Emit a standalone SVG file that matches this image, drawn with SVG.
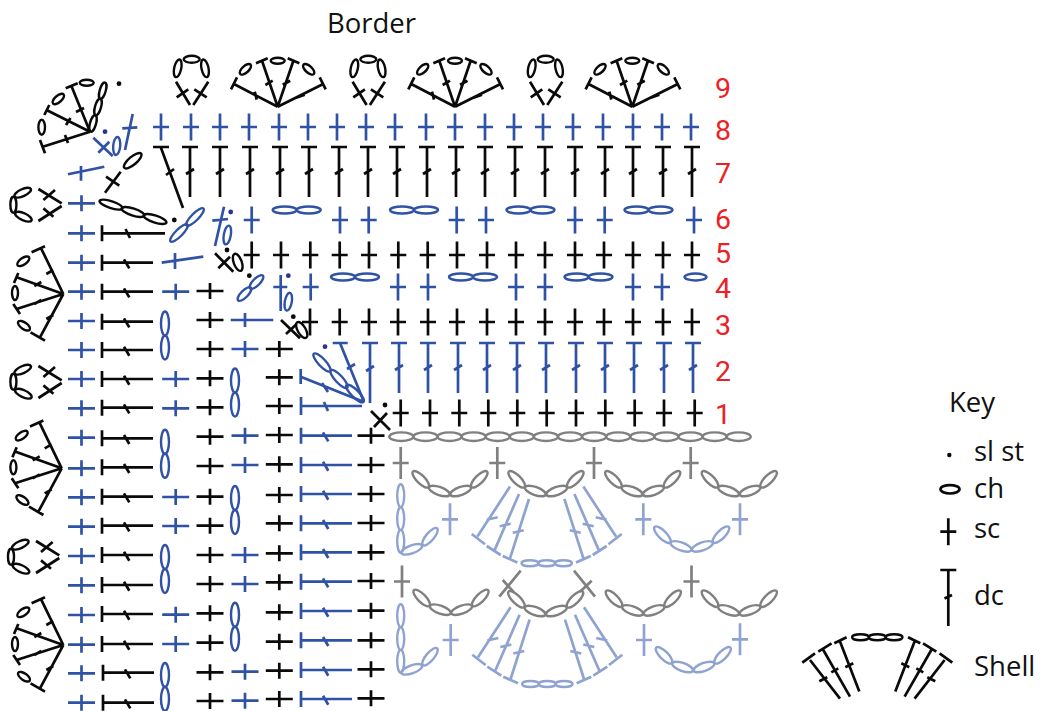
<svg xmlns="http://www.w3.org/2000/svg" xmlns:xlink="http://www.w3.org/1999/xlink" width="1040" height="711" viewBox="0 0 1040 711">
<style>
g{fill:none;stroke-width:2.7}
ellipse{stroke-width:2.4}
.k{stroke:#0a0a0a}
.b{stroke:#2f52a5}
.g{stroke:#808080}
.l{stroke:#8fa3d1}
text{font-family:"Open Sans","Noto Sans",sans-serif;stroke:none}
.lab{font-size:27.5px;fill:#111}
.num{font-size:28.5px;fill:#ed2024;font-family:Roboto,"Open Sans",sans-serif}
.dk{fill:#0a0a0a;stroke:none}
.db{fill:#2e3192;stroke:none}
</style>
<defs>
<path id="scv" d="M0-13.5V13.5M-8 0H8"/>
<path id="sch" d="M-13.5 0H13.5M0-8V8"/>
<path id="sct" d="M0-16V16M-8 0H8"/>
<path id="dcv" d="M-8 0H8M0 0V50M-4 27L4 22"/>
<path id="dch" d="M0-8V8M0 0H51M22-3.3L27.3 5.7"/>
<g id="ch2h"><ellipse cx="-12" rx="12" ry="3.5"/><ellipse cx="12" rx="12" ry="3.5"/></g>
<g id="ch2v"><ellipse cy="-12" rx="4" ry="12"/><ellipse cy="12" rx="4" ry="12"/></g>
<g id="fan9">
<path d="M0 0L-43.3-22.4M-46.7-17.4L-40.7-29.4M-23-15L-21-7M0 0L-15.7-46M-21.7-43.4L-10-48.4M-12.3-21.7L-5-26M0 0L15.7-46M10-48.4L21.7-43.4M5-22L12.5-26M0 0L45-22.4M42-29.4L48-17.4M17-8.5L27-12"/>
<ellipse rx="7" ry="3.3" transform="translate(-32.3 -37.4) rotate(-42)"/><ellipse cy="-46" rx="7" ry="3"/><ellipse rx="7" ry="3.3" transform="translate(31 -37.4) rotate(42)"/>
</g>
<g id="loop9">
<path d="M-15.7-25L-1.7-1.7M-15-9.4L-3.4-17.4M16.6-25L1.6-1.7M15-9.4L2.6-17.4"/>
<ellipse rx="9" ry="3.5" transform="translate(-14 -38.4) rotate(-78)"/><ellipse cy="-47.4" rx="8" ry="3.5"/><ellipse rx="9" ry="3.5" transform="translate(13.3 -38.4) rotate(78)"/>
</g>
<g id="loopL">
<path d="M-23.3-15.7L0-1.3M-18.3-4.7L-6.7-14.7M-23.3 16.3L0 1.3M-18.3 3.7L-8.3 12"/>
<ellipse rx="9" ry="3.5" transform="translate(-39 -12) rotate(-25)"/><ellipse cx="-48.3" rx="3" ry="8"/><ellipse rx="9" ry="3.5" transform="translate(-38.3 12) rotate(25)"/>
</g>
<g id="fanL">
<path d="M0 0L-22.7-46.7M-31.7-41.7L-18.3-47.7M-17-20L-10-24M0 0L-46.7-16.7M-49.3-11L-45-21M-29-8L-22-12M0 0L-46.7 15M-50 10L-43.3 20M-29 10L-22 6M0 0L-23.3 43.3M-32.7 38.3L-18.3 46.7M-17 25L-10 21"/>
<ellipse rx="7" ry="3.3" transform="translate(-40 -32.7) rotate(-35)"/><ellipse cx="-48.3" cy="-1" rx="3" ry="7"/><ellipse rx="7" ry="3.3" transform="translate(-39.3 31.7) rotate(35)"/>
</g>
<g id="smile">
<ellipse rx="11" ry="4" transform="translate(-29.3 -18) rotate(45)"/><ellipse rx="11" ry="4" transform="translate(-10.7 -6.3) rotate(20)"/><ellipse rx="11" ry="4" transform="translate(10.7 -6.3) rotate(-20)"/><ellipse rx="11" ry="4" transform="translate(29.3 -18) rotate(-45)"/>
</g>
<g id="corner">
<ellipse cy="-11.4" rx="3.5" ry="11.4"/><ellipse cy="-34" rx="3.5" ry="11.4"/><ellipse cy="-57" rx="3.5" ry="11.4"/>
<ellipse rx="11" ry="4" transform="translate(11 -3.4) rotate(-20)"/><ellipse rx="11" ry="4" transform="translate(29.3 -16) rotate(-50)"/>
</g>
<path id="half" d="M-36.7-76.7L-69.3-26.7M-75-29.3L-61.7-19M-60-43.5L-49-46M-27.7-69.3L-52.3-12.7M-60-17.3L-46-8.3M-47-37L-36-39.5M-17.7-64.3L-36.7-5M-44-7.3L-29.3-.7M-34-30.5L-23-33"/>
<g id="shellL">
<use href="#half"/><use href="#half" transform="scale(-1 1)"/>
<ellipse cx="-16.8" rx="8.4" ry="3"/><ellipse rx="8.4" ry="3"/><ellipse cx="16.8" rx="8.4" ry="3"/>
</g>
<path id="halfK" d="M-67.3 22.7L-37.3 61.3M-75 25.3L-62.3 16M-58 44L-50 40M-54 12.7L-27.3 59.3M-59 14.3L-45.7 6M-46 35L-39 31M-37.3 4.3L-18 54.3M-43 6L-30.7 0M-32 30L-24 26"/>
</defs>

<text x="327" y="33" class="lab">Border</text>
<g id="row-numbers">
<text x="715" y="98" class="num">9</text><text x="715" y="140" class="num">8</text><text x="715" y="183" class="num">7</text><text x="715" y="229" class="num">6</text><text x="715" y="263" class="num">5</text><text x="715" y="298" class="num">4</text><text x="715" y="335" class="num">3</text><text x="715" y="381" class="num">2</text><text x="715" y="424" class="num">1</text>
</g>

<g id="row9" class="k">
<use href="#fan9" x="277.7" y="106.7"/><use href="#fan9" x="455" y="106.7"/><use href="#fan9" x="632.3" y="106.7"/>
<use href="#loop9" x="191.7" y="106.7"/><use href="#loop9" x="368.3" y="106.7"/><use href="#loop9" x="545.7" y="106.7"/>
</g>

<g id="corner-shell" class="k">
<path d="M90 131.7L42 147M40 140L45 153.3M65 135L68 143M90 131.7L46.5 110M44.3 115L49.3 105M66 125L70.5 118M90 131.7L71.7 86.7M65.7 88.3L77.7 83.3M76 112L84 108"/>
<ellipse rx="7.5" ry="3.3" transform="translate(41.7 127.3) rotate(90)"/><ellipse rx="7" ry="3.3" transform="translate(58.3 99) rotate(-40)"/><ellipse cx="86.7" cy="82.7" rx="7" ry="3"/>
<ellipse rx="8.5" ry="3" transform="translate(93 123.5) rotate(-74)"/><ellipse rx="8.5" ry="3" transform="translate(98 107) rotate(-74)"/><ellipse rx="8.5" ry="3" transform="translate(102.7 90.7) rotate(-74)"/>
<circle cx="119" cy="83.7" r="2.4" class="dk"/>
</g>

<g id="row8" class="b">
<use href="#scv" x="161" y="127"/><use href="#scv" x="191" y="127"/><use href="#scv" x="220" y="127"/><use href="#scv" x="249" y="127"/><use href="#scv" x="279" y="127"/><use href="#scv" x="308" y="127"/><use href="#scv" x="337" y="127"/><use href="#scv" x="366" y="127"/><use href="#scv" x="395" y="127"/><use href="#scv" x="426" y="127"/><use href="#scv" x="455" y="127"/><use href="#scv" x="485" y="127"/><use href="#scv" x="514" y="127"/><use href="#scv" x="543" y="127"/><use href="#scv" x="573" y="127"/><use href="#scv" x="603" y="127"/><use href="#scv" x="633" y="127"/><use href="#scv" x="662" y="127"/><use href="#scv" x="691" y="127"/>
<path d="M125 150L132.7 114M122.3 128.3L137.3 127.3M93.3 137.7L112.7 156M98.3 152.7L109.3 141.7"/>
<ellipse rx="9" ry="3.5" transform="translate(116.7 146) rotate(-85)"/>
<circle cx="105" cy="131.7" r="2.4" class="db"/>
</g>

<g id="row7" class="k">
<path d="M160.7 147L183 208M153 147H169M166 175L174 169"/>
<use href="#dcv" x="190" y="147"/><use href="#dcv" x="220" y="147"/><use href="#dcv" x="250" y="147"/><use href="#dcv" x="280" y="147"/><use href="#dcv" x="309" y="147"/><use href="#dcv" x="339" y="147"/><use href="#dcv" x="368" y="147"/><use href="#dcv" x="397" y="147"/><use href="#dcv" x="427" y="147"/><use href="#dcv" x="456" y="147"/><use href="#dcv" x="485" y="147"/><use href="#dcv" x="515" y="147"/><use href="#dcv" x="545" y="147"/><use href="#dcv" x="575" y="147"/><use href="#dcv" x="605" y="147"/><use href="#dcv" x="633" y="147"/><use href="#dcv" x="663" y="147"/><use href="#dcv" x="692" y="147"/>
<path d="M105 192.7L120.7 171.7M106 176.7L119.3 185.7"/>
<ellipse rx="11" ry="4" transform="translate(132.7 160.7) rotate(-40)"/>
<ellipse rx="12" ry="3.5" transform="translate(111 204.6) rotate(18)"/><ellipse rx="12" ry="3.5" transform="translate(133 212) rotate(18)"/><ellipse rx="12" ry="3.5" transform="translate(155 219) rotate(18)"/>
<circle cx="174.3" cy="220" r="2.4" class="dk"/>
</g>

<g id="row6" class="b">
<use href="#scv" x="251.7" y="220"/><use href="#scv" x="340" y="220"/><use href="#scv" x="368.7" y="220"/><use href="#scv" x="456.7" y="220"/><use href="#scv" x="486" y="220"/><use href="#scv" x="575" y="220"/><use href="#scv" x="604.7" y="220"/><use href="#scv" x="694" y="220"/>
<use href="#ch2h" x="296.7" y="210"/><use href="#ch2h" x="414" y="210"/><use href="#ch2h" x="530.5" y="210"/><use href="#ch2h" x="648.5" y="210"/>
<ellipse rx="12" ry="3.5" transform="translate(179 233) rotate(-45)"/><ellipse rx="12" ry="3.5" transform="translate(195 217) rotate(-45)"/>
<path d="M215 246L224 206.7M212.3 220.7L228 219"/>
<ellipse rx="9.5" ry="3.5" transform="translate(227.3 235) rotate(-80)"/>
<circle cx="230.7" cy="212" r="2.4" class="db"/>
<path d="M161.7 262.7L203.3 256.7M175 253V269"/>
</g>

<g id="row5" class="k">
<use href="#scv" x="251.7" y="255"/><use href="#scv" x="281" y="255"/><use href="#scv" x="310.3" y="255"/><use href="#scv" x="339.7" y="255"/><use href="#scv" x="369" y="255"/><use href="#scv" x="398.3" y="255"/><use href="#scv" x="427.7" y="255"/><use href="#scv" x="457" y="255"/><use href="#scv" x="487" y="255"/><use href="#scv" x="516" y="255"/><use href="#scv" x="545" y="255"/><use href="#scv" x="575" y="255"/><use href="#scv" x="604" y="255"/><use href="#scv" x="633" y="255"/><use href="#scv" x="663" y="255"/><use href="#scv" x="692" y="255"/>
<path d="M215 253.3L233.3 271.7M218.3 268.3L230 256.7"/>
<ellipse rx="9" ry="4" transform="translate(237.7 262.3) rotate(70)"/>
<circle cx="227" cy="250" r="2.4" class="dk"/>
</g>

<g id="row4" class="b">
<ellipse rx="9" ry="3.5" transform="translate(244.5 294) rotate(-45)"/><ellipse rx="9" ry="3.5" transform="translate(256.5 282) rotate(-45)"/>
<path d="M280.7 275V311M273.3 287H287.3"/>
<ellipse rx="9" ry="3.5" transform="translate(288.3 301.7) rotate(-80)"/>
<circle cx="288.3" cy="275.7" r="2.4" class="db"/>
<circle cx="249.3" cy="275.7" r="2.4" class="dk"/>
<use href="#scv" x="310.7" y="287"/><use href="#scv" x="398" y="287"/><use href="#scv" x="428" y="287"/><use href="#scv" x="516" y="287"/><use href="#scv" x="545" y="287"/><use href="#scv" x="633" y="287"/><use href="#scv" x="662" y="287"/>
<use href="#ch2h" x="355" y="277"/><use href="#ch2h" x="473" y="277"/><use href="#ch2h" x="588.5" y="277"/>
<ellipse cx="695.5" cy="277" rx="11" ry="3.5"/>
</g>

<g id="row3" class="k">
<use href="#scv" x="310" y="322"/><use href="#scv" x="339.7" y="322"/><use href="#scv" x="369" y="322"/><use href="#scv" x="398" y="322"/><use href="#scv" x="428" y="322"/><use href="#scv" x="457" y="322"/><use href="#scv" x="487" y="322"/><use href="#scv" x="516" y="322"/><use href="#scv" x="545" y="322"/><use href="#scv" x="575" y="322"/><use href="#scv" x="604" y="322"/><use href="#scv" x="633" y="322"/><use href="#scv" x="663" y="322"/><use href="#scv" x="692" y="322"/>
<path d="M281 320L300 338.3M286 334L296.7 324"/>
<ellipse rx="9" ry="4" transform="translate(301.7 330) rotate(60)"/>
<circle cx="293.3" cy="316.7" r="2.4" class="dk"/>
</g>

<g id="row2" class="b">
<use href="#dcv" x="399" y="343"/><use href="#dcv" x="428" y="343"/><use href="#dcv" x="458" y="343"/><use href="#dcv" x="487" y="343"/><use href="#dcv" x="517" y="343"/><use href="#dcv" x="546" y="343"/><use href="#dcv" x="576" y="343"/><use href="#dcv" x="605" y="343"/><use href="#dcv" x="634" y="343"/><use href="#dcv" x="664" y="343"/><use href="#dcv" x="693" y="343"/>
<path d="M362 343H378M370 343V403M366 371L374 366M332.7 343H347.7M340 343L364 402M347 369L355 364M300.7 369V384M300.7 376.7L364 402M322 383L328 392M301 397V415M301 406H362M324 402L328 411"/>
<ellipse rx="12" ry="3.7" transform="translate(322 362.5) rotate(47)"/><ellipse rx="12" ry="3.7" transform="translate(339 379) rotate(47)"/><ellipse rx="12" ry="3.7" transform="translate(355 393.5) rotate(45)"/>
<circle cx="325" cy="346.7" r="2.4" class="db"/>
</g>

<g id="row1" class="k">
<use href="#scv" x="400.7" y="413"/><use href="#scv" x="430" y="413"/><use href="#scv" x="459.3" y="413"/><use href="#scv" x="488.3" y="413"/><use href="#scv" x="517.3" y="413"/><use href="#scv" x="546.7" y="413"/><use href="#scv" x="576" y="413"/><use href="#scv" x="605.3" y="413"/><use href="#scv" x="634.7" y="413"/><use href="#scv" x="664" y="413"/><use href="#scv" x="694.7" y="413"/>
<path d="M371 411L390 430M374 427L387 413"/>
<circle cx="385" cy="405" r="2.4" class="dk"/>
</g>

<g id="left-column-a" class="k">
<use href="#loopL" x="61.7" y="204.7"/><use href="#loopL" x="61.7" y="381.7"/><use href="#loopL" x="59.3" y="556.7"/>
<use href="#fanL" x="63.3" y="294"/><use href="#fanL" x="61.7" y="468.3"/><use href="#fanL" x="63.3" y="645"/>
</g>

<g id="col-sc-blue-1" class="b">
<use href="#sch" x="81.5" y="203.3"/><use href="#sch" x="81.5" y="233.3"/><use href="#sch" x="81.5" y="262.7"/><use href="#sch" x="81.5" y="291.7"/><use href="#sch" x="81.5" y="321"/><use href="#sch" x="81.5" y="350"/><use href="#sch" x="81.5" y="379"/><use href="#sch" x="81.5" y="408.3"/><use href="#sch" x="81.5" y="437.7"/><use href="#sch" x="81.5" y="468.3"/><use href="#sch" x="81.5" y="497.3"/><use href="#sch" x="81.5" y="526.7"/><use href="#sch" x="81.5" y="556"/><use href="#sch" x="81.5" y="585.3"/><use href="#sch" x="81.5" y="615"/><use href="#sch" x="81.5" y="644.7"/><use href="#sch" x="81.5" y="673.3"/><use href="#sch" x="81.5" y="702.7"/>
<path d="M68 174.3L104.3 166.7M81 166V180.7"/>
</g>

<g id="col-dc-black" class="k">
<path d="M102 225.3V241.3M102 233.3H165M125.5 229L130 238"/>
<use href="#dch" x="102" y="262.7"/><use href="#dch" x="102" y="291.7"/><use href="#dch" x="102" y="321.7"/><use href="#dch" x="102" y="350"/><use href="#dch" x="102" y="379"/><use href="#dch" x="102" y="407.7"/><use href="#dch" x="102" y="438.3"/><use href="#dch" x="102" y="467.3"/><use href="#dch" x="102" y="496.7"/><use href="#dch" x="102" y="525.7"/><use href="#dch" x="102" y="555"/><use href="#dch" x="102" y="585"/><use href="#dch" x="102" y="614"/><use href="#dch" x="102" y="644"/><use href="#dch" x="103" y="672.7"/><use href="#dch" x="103" y="702.7"/>
</g>

<g id="col-blue-3" class="b">
<use href="#sch" x="175.7" y="291.7"/><use href="#sch" x="175.7" y="379"/><use href="#sch" x="175.7" y="408.3"/><use href="#sch" x="175.7" y="497"/><use href="#sch" x="175.7" y="526"/><use href="#sch" x="175.7" y="614.7"/><use href="#sch" x="175.7" y="644"/>
<use href="#ch2v" x="165" y="335.5"/><use href="#ch2v" x="165" y="453.8"/><use href="#ch2v" x="165" y="569"/><use href="#ch2v" x="165" y="687"/>
</g>

<g id="col-black-4" class="k">
<use href="#sch" x="210" y="291"/><use href="#sch" x="210" y="320"/><use href="#sch" x="210" y="349"/><use href="#sch" x="210" y="378.3"/><use href="#sch" x="210" y="407.3"/><use href="#sch" x="210" y="436.7"/><use href="#sch" x="210" y="466"/><use href="#sch" x="210" y="496.7"/><use href="#sch" x="210" y="525.7"/><use href="#sch" x="210" y="555"/><use href="#sch" x="210" y="584"/><use href="#sch" x="210" y="613.3"/><use href="#sch" x="210" y="642.7"/><use href="#sch" x="210" y="672.3"/><use href="#sch" x="210" y="701"/>
</g>

<g id="col-blue-5" class="b">
<path d="M230.7 320H273.3M245 313V327"/>
<use href="#sch" x="245" y="349"/><use href="#sch" x="245" y="435.7"/><use href="#sch" x="245" y="465"/><use href="#sch" x="245" y="555"/><use href="#sch" x="245" y="584"/><use href="#sch" x="245" y="671.7"/><use href="#sch" x="245" y="700.7"/>
<use href="#ch2v" x="235" y="392.5"/><use href="#ch2v" x="235" y="510"/><use href="#ch2v" x="235" y="626.7"/>
</g>

<g id="col-black-6" class="k">
<use href="#sch" x="279.3" y="349"/><use href="#sch" x="279.3" y="377.3"/><use href="#sch" x="279.3" y="406"/><use href="#sch" x="279.3" y="435"/><use href="#sch" x="279.3" y="464.3"/><use href="#sch" x="279.3" y="495"/><use href="#sch" x="279.3" y="523.3"/><use href="#sch" x="279.3" y="553.3"/><use href="#sch" x="279.3" y="582.3"/><use href="#sch" x="279.3" y="612.3"/><use href="#sch" x="279.3" y="641.7"/><use href="#sch" x="279.3" y="670.7"/><use href="#sch" x="279.3" y="699"/>
</g>

<g id="col-dc-blue" class="b">
<use href="#dch" x="301" y="435.7"/><use href="#dch" x="301" y="465"/><use href="#dch" x="301" y="494"/><use href="#dch" x="301" y="523.3"/><use href="#dch" x="301" y="552.3"/><use href="#dch" x="301" y="581.7"/><use href="#dch" x="301" y="611"/><use href="#dch" x="301" y="640.3"/><use href="#dch" x="301" y="670"/><use href="#dch" x="301" y="699"/>
</g>

<g id="col-black-8" class="k">
<use href="#sch" x="371" y="435.7"/><use href="#sch" x="371" y="465"/><use href="#sch" x="371" y="494"/><use href="#sch" x="371" y="523"/><use href="#sch" x="371" y="552.3"/><use href="#sch" x="371" y="581"/><use href="#sch" x="371" y="610.7"/><use href="#sch" x="371" y="640.3"/><use href="#sch" x="371" y="669.3"/><use href="#sch" x="371" y="698.3"/>
</g>

<g id="base-chain" class="g">
<ellipse cx="401.3" cy="436.7" rx="12" ry="4.3"/><ellipse cx="425.4" cy="436.7" rx="12" ry="4.3"/><ellipse cx="449.5" cy="436.7" rx="12" ry="4.3"/><ellipse cx="473.6" cy="436.7" rx="12" ry="4.3"/><ellipse cx="497.7" cy="436.7" rx="12" ry="4.3"/><ellipse cx="521.8" cy="436.7" rx="12" ry="4.3"/><ellipse cx="545.9" cy="436.7" rx="12" ry="4.3"/><ellipse cx="570" cy="436.7" rx="12" ry="4.3"/><ellipse cx="594.1" cy="436.7" rx="12" ry="4.3"/><ellipse cx="618.2" cy="436.7" rx="12" ry="4.3"/><ellipse cx="642.3" cy="436.7" rx="12" ry="4.3"/><ellipse cx="666.4" cy="436.7" rx="12" ry="4.3"/><ellipse cx="690.5" cy="436.7" rx="12" ry="4.3"/><ellipse cx="714.6" cy="436.7" rx="12" ry="4.3"/><ellipse cx="738.7" cy="436.7" rx="12" ry="4.3"/>
</g>

<g id="grey-rows" class="g">
<use href="#sct" x="400.7" y="463"/><use href="#sct" x="497.3" y="463"/><use href="#sct" x="594" y="463"/><use href="#sct" x="690.7" y="463"/>
<use href="#smile" x="450" y="497.3"/><use href="#smile" x="546" y="497.3"/><use href="#smile" x="642.7" y="497.3"/><use href="#smile" x="739.3" y="497.3"/>
<use href="#sct" x="402" y="581.5"/><use href="#sct" x="691.5" y="581.5"/>
<path d="M499.3 596.7L520.7 570.7M502.7 580L514 592.3M574 570.7L595 596.7M580 591.7L591.7 580.7"/>
<use href="#smile" x="451" y="616"/><use href="#smile" x="545.7" y="617.3"/><use href="#smile" x="643.3" y="616.7"/><use href="#smile" x="739.3" y="616.7"/>
</g>

<g id="light-rows" class="l">
<use href="#corner" x="400.7" y="552.7"/><use href="#corner" x="400.7" y="672.7"/>
<use href="#sct" x="450" y="519.3"/><use href="#sct" x="643.3" y="519.3"/><use href="#sct" x="740" y="519.3"/>
<use href="#sct" x="450.7" y="640"/><use href="#sct" x="644" y="640"/><use href="#sct" x="740" y="639.3"/>
<use href="#smile" x="691.7" y="552.7"/><use href="#smile" x="693.3" y="673.3"/>
<use href="#shellL" x="546.7" y="563.3"/><use href="#shellL" x="547.3" y="684"/>
</g>

<g id="key" class="k">
<text x="949" y="412" class="lab">Key</text>
<circle cx="949.3" cy="455" r="2.2" class="dk"/>
<text x="974" y="461" class="lab">sl st</text>
<ellipse cx="950" cy="489.3" rx="9.5" ry="4.2" style="stroke-width:2.7"/>
<text x="974" y="498" class="lab">ch</text>
<use href="#scv" x="948.3" y="531.7"/>
<text x="974" y="538" class="lab">sc</text>
<path d="M940.3 570H956.3M948.3 570V626M944.5 598.5L952 595"/>
<text x="974" y="605" class="lab">dc</text>
<g transform="translate(877.3 637.3)">
<use href="#halfK"/><use href="#halfK" transform="scale(-1 1)"/>
<ellipse cx="-16.8" rx="8.4" ry="3"/><ellipse rx="8.4" ry="3"/><ellipse cx="16.8" rx="8.4" ry="3"/>
</g>
<text x="974" y="676" class="lab">Shell</text>
</g>
</svg>
